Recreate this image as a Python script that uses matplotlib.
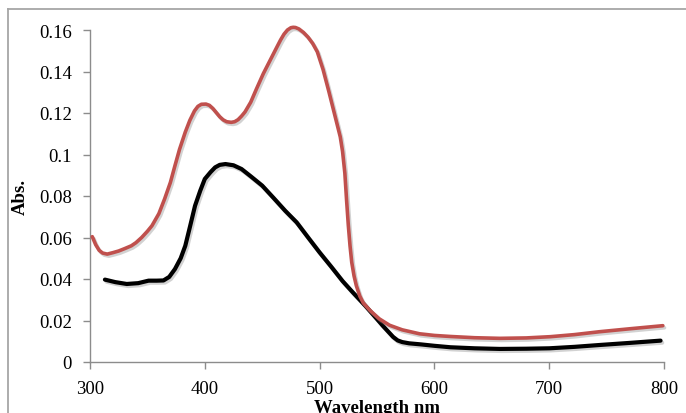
import matplotlib
matplotlib.use("Agg")
import matplotlib.pyplot as plt
import matplotlib.patheffects as pe
from matplotlib.lines import Line2D

red_x = [302, 305, 308, 311, 315, 320, 325, 330, 336, 340, 345, 350, 354, 360, 365, 370, 374, 378, 383, 387, 391,
         394, 397, 401, 404, 407, 410, 413, 416, 419, 423, 426, 429, 432, 435, 440, 445, 451, 457, 463, 466, 469,
         472, 475, 477, 479, 482, 486, 490, 494, 498, 503, 508, 513, 518, 520, 522, 523.5, 525, 526.5, 528, 530,
         532, 535, 538, 544, 552, 561, 572, 587, 600, 614, 635, 657, 680, 701, 722, 744, 770, 799]
red_y = [0.0604, 0.0565, 0.0538, 0.0525, 0.052, 0.0527, 0.0535, 0.0546, 0.056, 0.0575, 0.060, 0.063, 0.0657,
         0.0715, 0.0786, 0.0865, 0.0946, 0.1025, 0.1108, 0.1165, 0.121, 0.1232, 0.1242, 0.1243, 0.1237, 0.1222,
         0.1202, 0.1182, 0.1167, 0.1158, 0.1155, 0.1158, 0.1168, 0.1185, 0.1205, 0.1252, 0.1316, 0.139, 0.1455,
         0.152, 0.1552, 0.158, 0.16, 0.1611, 0.1613, 0.1612, 0.1605, 0.1588, 0.1565, 0.1535, 0.1495, 0.141,
         0.1305, 0.1195, 0.1085, 0.1015, 0.091, 0.078, 0.066, 0.056, 0.048, 0.0415, 0.0368, 0.0318, 0.0285,
         0.0248, 0.0208, 0.0177, 0.0155, 0.0136, 0.0128, 0.0123, 0.0117, 0.0114, 0.0116, 0.0122, 0.0132, 0.0146,
         0.016, 0.0175]

black_x = [313, 322, 332, 342, 351, 358, 364, 369, 374, 379, 383, 387, 391.5, 396, 400, 405, 409, 413, 418, 425,
           432, 440, 450, 460, 470, 480, 490, 500, 510, 520, 529, 540, 550, 555, 560, 564, 568, 572, 578, 588,
           600, 614, 635, 657, 680, 700, 722, 744, 770, 797]
black_y = [0.0397, 0.0385, 0.0376, 0.038, 0.0392, 0.0392, 0.0393, 0.041, 0.0448, 0.050, 0.056, 0.065, 0.0753,
           0.0825, 0.0882, 0.0915, 0.0938, 0.095, 0.0954, 0.0948, 0.093, 0.0895, 0.085, 0.079, 0.0729, 0.0673,
           0.060, 0.0528, 0.046, 0.039, 0.0335, 0.027, 0.0207, 0.0175, 0.0145, 0.0121, 0.0104, 0.0096, 0.009,
           0.0085, 0.0078, 0.0071, 0.0066, 0.0063, 0.0064, 0.0066, 0.0073, 0.0082, 0.0092, 0.0103]

x_ticks = [300, 400, 500, 600, 700, 800]
y_ticks = [0, 0.02, 0.04, 0.06, 0.08, 0.1, 0.12, 0.14, 0.16]
y_tick_labels = ["0", "0.02", "0.04", "0.06", "0.08", "0.1", "0.12", "0.14", "0.16"]

plt.rcParams['font.family'] = ['Liberation Serif', 'DejaVu Serif']

fig = plt.figure(figsize=(6.86, 4.14), dpi=100)
W, H = 686, 414
ax = fig.add_axes([90 / W, 1 - 363 / H, (664 - 90) / W, (363 - 31) / H])

# outer chart-area border (top and left visible)
fig.add_artist(Line2D([8 / W, 8 / W], [0, 1 - 10 / H], transform=fig.transFigure, color='#a6a6a6', lw=1.3))
fig.add_artist(Line2D([8 / W, 1], [1 - 10 / H, 1 - 10 / H], transform=fig.transFigure, color='#a6a6a6', lw=1.3))

shadow = [pe.SimpleLineShadow(offset=(1.2, -1.5), shadow_color='#808080', alpha=0.35), pe.Normal()]
ax.plot(black_x, black_y, color='black', lw=3.0, solid_joinstyle='round', solid_capstyle='round',
        path_effects=shadow, zorder=3, clip_on=False)
ax.plot(red_x, red_y, color='#C0504D', lw=2.6, solid_joinstyle='round', solid_capstyle='round',
        path_effects=shadow, zorder=4, clip_on=False)

ax.set_xlim(300, 800)
ax.set_ylim(0, 0.16)
ax.set_xticks(x_ticks)
ax.set_yticks(y_ticks)
ax.set_yticklabels(y_tick_labels)
for s in ['top', 'right']:
    ax.spines[s].set_visible(False)
for s in ['left', 'bottom']:
    ax.spines[s].set_color('#8c8c8c')
    ax.spines[s].set_linewidth(1.0)
ax.tick_params(axis='both', colors='#8c8c8c', length=5, width=1.0, labelcolor='black', labelsize=13.5)
ax.tick_params(axis='y', pad=8)
ax.tick_params(axis='x', pad=8)

ax.set_xlabel('Wavelength nm', fontsize=13.5, fontweight='bold')
ax.set_ylabel('Abs.', fontsize=13.5, fontweight='bold')
ax.xaxis.set_label_coords(0.5, -0.11)
ax.yaxis.set_label_coords(-0.106, 0.5)

fig.savefig('out.png', dpi=100)
